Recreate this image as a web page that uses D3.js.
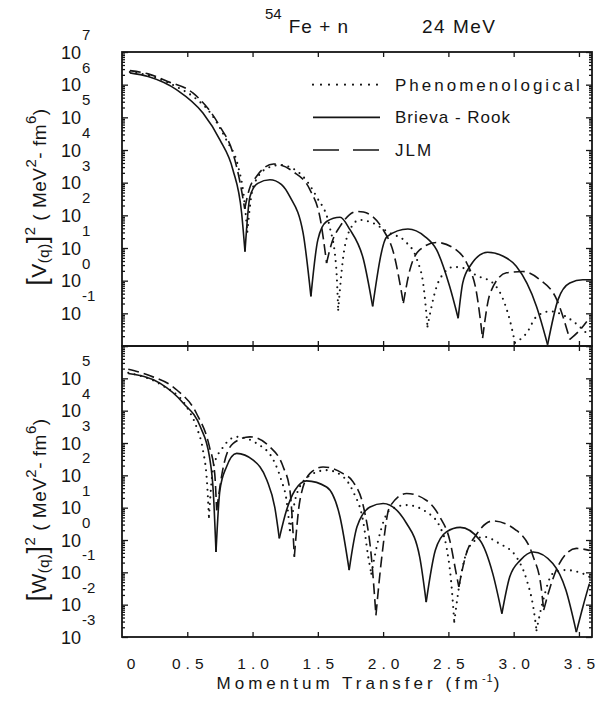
<!DOCTYPE html>
<html>
<head>
<meta charset="utf-8">
<script src="https://cdn.jsdelivr.net/npm/d3@7/dist/d3.min.js"></script>
<style>
body { margin: 0; background: #fff; }
text { font-family: 'Liberation Sans', Arial, sans-serif; fill: #151515; }
</style>
</head>
<body>
<svg id="canvas" width="607" height="711"></svg>
<script>
// [q (fm^-1), log10 of the value]
let phen_v = [[0.06,6.39],[0.2,6.29],[0.42,5.93],[0.55,5.62],[0.67,5.17],[0.80,4.3],[0.89,3.49],[0.93,2.68],[0.96,1.5],[1.005,2.88],[1.11,3.44],[1.21,3.54],[1.36,3.29],[1.49,2.57],[1.59,1.66],[1.64,0.44],[1.656,-0.89],[1.695,0.74],[1.746,1.56],[1.82,1.86],[1.9,1.8],[2.05,1.46],[2.17,1.2],[2.26,0.64],[2.31,-0.18],[2.34,-1.4],[2.41,-0.18],[2.47,0.25],[2.54,0.42],[2.62,0.38],[2.72,0.15],[2.84,-0.07],[2.92,-0.58],[2.97,-1.2],[3.01,-1.9],[3.1,-1.6],[3.175,-1.1],[3.28,-0.94],[3.4,-1.1],[3.53,-1.5],[3.58,-1.7]]
let brieva_v = [[0.06,6.36],[0.2,6.25],[0.42,5.84],[0.62,5.13],[0.75,4.31],[0.85,3.39],[0.916,2.08],[0.942,0.89],[0.98,2.57],[1.04,2.98],[1.133,3.09],[1.22,2.95],[1.286,2.57],[1.387,1.46],[1.447,-0.48],[1.50,1.25],[1.567,1.81],[1.67,1.94],[1.746,1.56],[1.85,0.64],[1.92,-0.79],[2.03,1.35],[2.19,1.58],[2.32,1.35],[2.41,0.94],[2.51,-0.18],[2.575,-1.15],[2.61,-0.07],[2.665,0.44],[2.80,0.87],[2.92,0.75],[3.02,0.44],[3.175,-0.79],[3.26,-1.96],[3.34,-0.58],[3.43,-0.07],[3.53,0.03],[3.6,0.03]]
let jlm_v = [[0.06,6.43],[0.2,6.33],[0.35,6.1],[0.545,5.74],[0.75,4.72],[0.85,3.9],[0.90,3.09],[0.94,2.2],[0.975,2.8],[1.03,3.19],[1.16,3.57],[1.31,3.34],[1.44,2.78],[1.52,1.86],[1.567,0.54],[1.61,1.2],[1.67,1.66],[1.80,2.12],[1.85,2.1],[2.0,1.56],[2.08,0.85],[2.155,-0.69],[2.205,0.33],[2.28,0.94],[2.41,1.17],[2.56,0.94],[2.64,0.54],[2.716,-0.38],[2.762,-1.76],[2.82,-0.38],[2.945,0.24],[3.07,0.28],[3.2,0.03],[3.33,-0.58],[3.43,-1.8],[3.51,-1.5],[3.56,-1.25]]

let phen_w = [[0.048,5.17],[0.3,4.8],[0.495,4.12],[0.57,3.5],[0.62,2.78],[0.65,1.85],[0.666,0.71],[0.70,2.26],[0.776,2.88],[0.878,3.19],[1.03,2.99],[1.16,2.47],[1.22,1.85],[1.26,1.23],[1.286,0.30],[1.34,1.44],[1.44,2.0],[1.567,2.16],[1.68,2.0],[1.77,1.5],[1.85,0.51],[1.886,-0.52],[1.91,-1.04],[1.963,0],[2.05,0.92],[2.18,1.08],[2.33,0.87],[2.435,0.41],[2.485,-0.21],[2.52,-1.24],[2.545,-2.53],[2.59,-1.24],[2.66,-0.21],[2.77,0.1],[2.89,-0.11],[3.02,-0.52],[3.1,-1.24],[3.15,-2.07],[3.175,-2.79],[3.226,-1.86],[3.30,-1.04],[3.40,-0.93],[3.53,-1.04],[3.58,-1.14]]
let brieva_w = [[0.048,5.15],[0.29,4.85],[0.47,4.23],[0.60,3.5],[0.67,2.57],[0.70,1.44],[0.72,-0.37],[0.75,1.54],[0.80,2.26],[0.878,2.68],[1.005,2.47],[1.11,1.85],[1.17,1.02],[1.205,0.05],[1.26,0.92],[1.325,1.54],[1.414,1.83],[1.567,1.64],[1.67,0.71],[1.74,-0.93],[1.8,0.41],[1.9,1.02],[2.0,1.13],[2.18,0.51],[2.28,-0.52],[2.33,-1.92],[2.40,-0.32],[2.485,0.25],[2.59,0.39],[2.74,0.0],[2.84,-1.04],[2.91,-2.28],[2.97,-1.14],[3.05,-0.63],[3.15,-0.37],[3.30,-0.73],[3.40,-1.55],[3.48,-2.85],[3.53,-2.07],[3.58,-1.35]]
let jlm_w = [[0.048,5.28],[0.2,5.1],[0.42,4.64],[0.57,3.92],[0.67,2.88],[0.71,2.06],[0.725,0.92],[0.776,2.26],[0.852,2.99],[0.98,3.19],[1.133,2.88],[1.235,2.26],[1.286,1.54],[1.32,-0.52],[1.363,1.23],[1.44,2.06],[1.54,2.26],[1.69,2.06],[1.77,1.8],[1.85,1.02],[1.91,-0.52],[1.945,-2.33],[1.99,-0.52],[2.05,1.02],[2.18,1.44],[2.33,1.23],[2.435,0.71],[2.51,0.0],[2.56,-1.04],[2.58,-1.45],[2.63,-0.52],[2.72,0.2],[2.84,0.59],[3.02,0.3],[3.15,-0.52],[3.21,-1.45],[3.23,-2.17],[3.28,-1.45],[3.35,-0.73],[3.48,-0.26],[3.58,-0.32]]

let x_tick_values = [0.5, 1.0, 1.5, 2.0, 2.5, 3.0, 3.5]
let x_label_values = [0, 0.5, 1.0, 1.5, 2.0, 2.5, 3.0, 3.5]
let x_label_text = ['0', '0.5', '1.0', '1.5', '2.0', '2.5', '3.0', '3.5']
let top_exps = [7, 6, 5, 4, 3, 2, 1, 0, -1]
let bottom_exps = [5, 4, 3, 2, 1, 0, -1, -2, -3]
let legend_names = ['Phenomenological', 'Brieva - Rook', 'JLM']

let canvas = d3.select('#canvas')

let x = d3.scaleLinear().domain([0, 3.6]).range([122, 592])
let y_top = d3.scaleLog().domain([1e-2, 1e7]).range([346, 52])
let y_bot = d3.scaleLog().domain([1e-3, 1e6]).range([637, 346])

let styles = {
    dotted: { dash: '0,6.5', width: 2.1, cap: 'round' },
    solid: { dash: null, width: 1.6, cap: 'butt' },
    dashed: { dash: '11,5', width: 1.6, cap: 'butt' }
}

// break a curve at each dip so the cusp stays sharp
let splitAtDips = (pts) => {
    let segs = []
    let cur = [pts[0]]
    for (let i = 1; i < pts.length; i++) {
        cur.push(pts[i])
        if (i < pts.length - 1 && pts[i][1] < pts[i - 1][1] && pts[i][1] < pts[i + 1][1]) {
            segs.push(cur)
            cur = [pts[i]]
        }
    }
    segs.push(cur)
    return segs
}

let drawPanel = (y, series, exps, clipId) => {
    let [y0, y1] = y.range()
    let g = canvas.append('g')

    canvas.append('clipPath').attr('id', clipId)
        .append('rect').attr('x', x(0)).attr('y', y1).attr('width', x(3.6) - x(0)).attr('height', y0 - y1)

    let exps_all = d3.range(Math.round(Math.log10(y.domain()[0])), Math.round(Math.log10(y.domain()[1])) + 1)
    let majors = exps_all.map(e => Math.pow(10, e))
    let minors = []
    exps_all.slice(0, -1).forEach(e => {
        for (let m = 2; m <= 9; m++) minors.push(m * Math.pow(10, e))
    })

    let axes = [
        [d3.axisLeft(y).tickValues(majors).tickSize(-6), `translate(${x(0)},0)`],
        [d3.axisLeft(y).tickValues(minors).tickSize(-3), `translate(${x(0)},0)`],
        [d3.axisRight(y).tickValues(majors).tickSize(-6), `translate(${x(3.6)},0)`],
        [d3.axisRight(y).tickValues(minors).tickSize(-3), `translate(${x(3.6)},0)`],
        [d3.axisTop(x).tickValues(x_tick_values).tickSize(-5), `translate(0,${y1})`],
        [d3.axisBottom(x).tickValues(x_tick_values).tickSize(-5), `translate(0,${y0})`]
    ]
    axes.forEach(([ax, tr]) => {
        let a = g.append('g').attr('transform', tr).call(ax.tickFormat(''))
        a.select('.domain').remove()
        a.selectAll('line').attr('stroke', '#151515').attr('stroke-width', 1.3)
    })

    g.append('rect')
        .attr('x', x(0)).attr('y', y1).attr('width', x(3.6) - x(0)).attr('height', y0 - y1)
        .attr('fill', 'none').attr('stroke', '#151515').attr('stroke-width', 1.8)

    // 10^n labels
    exps.forEach(e => {
        let ty = y(Math.pow(10, e))
        g.append('text').attr('x', 81).attr('y', ty + 6.5)
            .attr('text-anchor', 'end').style('font-size', '18px').text('10')
        g.append('text').attr('x', 82).attr('y', ty - 12)
            .style('font-size', '15px').text(String(e))
    })

    let line = d3.line()
        .x(d => x(d[0]))
        .y(d => y(Math.pow(10, d[1])))
        .curve(d3.curveMonotoneX)

    series.forEach(s => {
        let st = styles[s.style]
        splitAtDips(s.data).forEach(seg => {
            g.append('path')
                .attr('d', line(seg))
                .attr('clip-path', `url(#${clipId})`)
                .attr('fill', 'none')
                .attr('stroke', '#151515')
                .attr('stroke-width', st.width)
                .attr('stroke-linecap', st.cap)
                .attr('stroke-dasharray', st.dash)
        })
    })
    return g
}

drawPanel(y_top, [
    { data: phen_v, style: 'dotted' },
    { data: brieva_v, style: 'solid' },
    { data: jlm_v, style: 'dashed' }
], top_exps, 'clip-top')

drawPanel(y_bot, [
    { data: phen_w, style: 'dotted' },
    { data: brieva_w, style: 'solid' },
    { data: jlm_w, style: 'dashed' }
], bottom_exps, 'clip-bot')

// x tick labels under the lower panel
canvas.append('g')
    .attr('transform', `translate(0,${y_bot.range()[0]})`)
    .call(d3.axisBottom(x).tickValues(x_label_values).tickSize(0).tickPadding(21)
        .tickFormat((d, i) => x_label_text[i]))
    .call(a => a.select('.domain').remove())
    .selectAll('text')
    .attr('dx', (d, i) => i === 0 ? 11 : 2.5)
    .style('font-size', '15.5px')
    .style('letter-spacing', '5px')
    .style('font-family', "'Liberation Sans', Arial, sans-serif")
    .attr('fill', '#151515')

// legend
let legend_styles = ['dotted', 'solid', 'dashed']
let legend_dash = ['0,8', null, '26,14']
let legend_spacing = [3, 1, 2]
legend_names.forEach((name, i) => {
    let ly = y_top(Math.pow(10, 6 - i))
    let st = styles[legend_styles[i]]
    canvas.append('line')
        .attr('x1', 313).attr('x2', 380).attr('y1', ly).attr('y2', ly)
        .attr('stroke', '#151515').attr('stroke-width', st.width)
        .attr('stroke-linecap', st.cap).attr('stroke-dasharray', legend_dash[i])
    canvas.append('text').attr('x', 395).attr('y', ly + 6)
        .style('font-size', '17px').style('letter-spacing', legend_spacing[i] + 'px').text(name)
})

// title
let title = canvas.append('text').attr('x', 265).attr('y', 33).style('font-size', '19px')
title.append('tspan').text('54').style('font-size', '15px').attr('dy', -14)
title.append('tspan').text('Fe + n').attr('dy', 14).attr('dx', 7).style('letter-spacing', '1px')
canvas.append('text').attr('x', 422).attr('y', 33).style('font-size', '19px')
    .style('letter-spacing', '1.5px').text('24 MeV')

// rotated y titles built from pieces: [text, size, baseline shift]
let yTitle = (cx, cy, letter) => {
    let parts = [['[', 27, 0], [letter, 21, 0], ['(q)', 15, 3], [']', 27, 0], ['2', 15, -11],
        [' ( MeV', 19, 0], ['2', 15, -10], ['- fm', 19, 0], ['6', 15, -10], [')', 19, 0]]
    let t = canvas.append('text')
        .attr('transform', `translate(${cx},${cy}) rotate(-90)`)
        .attr('text-anchor', 'middle')
        .style('letter-spacing', '0.5px')
    let prev = 0
    parts.forEach(([s, size, shift]) => {
        t.append('tspan').text(s).style('font-size', size + 'px').attr('dy', shift - prev)
        prev = shift
    })
}
yTitle(46, 197, 'V')
yTitle(46, 510, 'W')

// x title
let xt = canvas.append('text').attr('x', 360).attr('y', 689).attr('text-anchor', 'middle')
    .style('font-size', '17px').style('letter-spacing', '4px')
xt.append('tspan').text('Momentum  Transfer  (fm')
xt.append('tspan').text('-1').style('font-size', '11px').attr('dy', -7).style('letter-spacing', '1px')
xt.append('tspan').text(')').attr('dy', 7)
</script>
</body>
</html>
